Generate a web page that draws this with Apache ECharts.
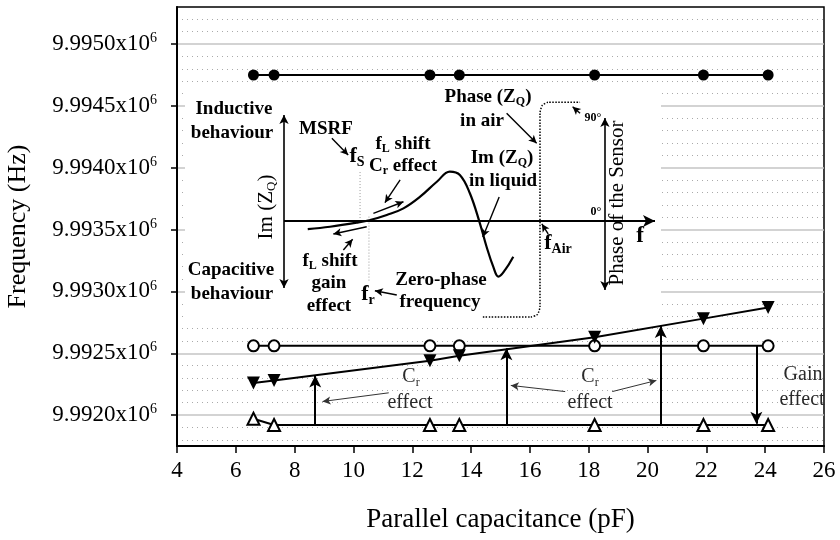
<!DOCTYPE html>
<html><head><meta charset="utf-8">
<script src="https://cdn.jsdelivr.net/npm/echarts@6/dist/echarts.min.js"></script>
<style>html,body{margin:0;padding:0;background:#fff}#c{width:840px;height:540px}</style>
</head><body><div id="c"></div>
<script>
// ---------- data ----------
const capacitance = [6.6, 7.3, 12.6, 13.6, 18.2, 21.9, 24.1];
const freqFilledCircle = [9994750, 9994750, 9994750, 9994750, 9994750, 9994750, 9994750];
const freqOpenCircle = [9992560, 9992560, 9992560, 9992560, 9992560, 9992560, 9992560];
const freqDownTriangle = [9992260, 9992280, 9992440, 9992480, 9992630, 9992780, 9992870];
const freqUpTriangle = [9991970, 9991920, 9991920, 9991920, 9991920, 9991920, 9991920];
const xTickValues = [4, 6, 8, 10, 12, 14, 16, 18, 20, 22, 24, 26];
const yTickValues = [9992000, 9992500, 9993000, 9993500, 9994000, 9994500, 9995000];

// annotation arrows on the main axes: [x, fromFreq, toFreq]
const crArrows = [[8.7, 9991920, 9992320], [15.2, 9991920, 9992540], [20.45, 9991920, 9992720]];
const gainArrows = [[23.7, 9992560, 9991930]];
const crPointers = [
  [[11.2, 9992180], [8.95, 9992110]],
  [[17.2, 9992190], [15.35, 9992240]],
  [[18.8, 9992190], [20.3, 9992280]]
];

// inset schematic (arbitrary units: frequency 0-100, response -1.2..1.2)
const imZCurve = [[6.4,-0.073],[12.4,-0.052],[19.6,-0.015],[23.2,0.009],[27.7,0.055],[32.2,0.115],[36.7,0.221],[41.2,0.357],[44.7,0.448],[47.4,0.418],[50.1,0.252],[52.8,-0.021],[54.6,-0.234],[56.4,-0.415],[57.8,-0.506],[59.6,-0.445],[61.8,-0.325]];
const phaseAirCurve = [[53.6,-0.873],[66.5,-0.873],[68.3,-0.85],[69.0,-0.78],[69.0,0.98],[69.6,1.05],[71.2,1.08],[79.8,1.08]];
const fsLine = [[20.5,0.445],[20.5,0]];
const frLine = [[22.9,0.04],[22.9,-0.555]];
const insetDoubleAxes = [[[0,0.964],[0,-0.609]], [[86.5,0.936],[86.5,-0.627]]];
const insetFreqAxis = [[[0,0],[100,0]]];
const insetPointers = [
  [[12.9,0.752],[17.3,0.6]],
  [[31.3,0.373],[27.2,0.167]],
  [[24.1,0.07],[32.2,0.175]],
  [[22.3,-0.052],[13.3,-0.118]],
  [[16.0,-0.264],[18.5,-0.166]],
  [[30.4,-0.673],[24.5,-0.634]],
  [[60.0,0.979],[68.1,0.706]],
  [[58.0,0.218],[53.6,-0.145]],
  [[71.2,-0.118],[69.5,-0.027]],
  [[79.8,0.979],[77.8,1.039]]
];

// ---------- chart ----------
const FONT = 'Liberation Serif';
const chart = echarts.init(document.getElementById('c'), null, {renderer: 'canvas'});
const zip = (xs, ys) => xs.map((x, i) => [x, ys[i]]);
const segPairs = (list) => list.map(p => [{coord: p[0]}, {coord: p[1]}]);
const vArrows = (list) => list.map(a => [{coord: [a[0], a[1]]}, {coord: [a[0], a[2]]}]);

function txt(text, x, y, opt) {
  opt = opt || {};
  const size = opt.size || 19;
  const weight = opt.weight || 'bold';
  const color = opt.color || '#000';
  return {
    type: 'text', x: x, y: y, z: 10, rotation: opt.rotation || 0,
    style: {
      text: text, fontFamily: FONT, fontSize: size, fontWeight: weight, fill: color,
      align: 'center', verticalAlign: 'middle',
      rich: {
        n: {fontFamily: FONT, fontSize: size, fontWeight: weight, fill: color},
        s: {fontFamily: FONT, fontSize: Math.round(size * 0.62), fontWeight: weight, fill: color, padding: [Math.round(size*0.55), 0, 0, 0]}
      }
    }
  };
}

const markLineBase = {silent: true, animation: false, label: {show: false}, emphasis: {disabled: true}};
const NOTE = {size: 20, weight: 'normal', color: '#2a2a2a'};

const option = {
  animation: false,
  backgroundColor: '#fff',
  grid: [
    {left: 177, top: 7, width: 647, height: 439, show: true, borderColor: '#000', borderWidth: 1.5, backgroundColor: 'transparent', containLabel: false, outerBoundsMode: 'none'},
    {left: 284, top: 89, width: 371, height: 264, containLabel: false, outerBoundsMode: 'none'}
  ],
  xAxis: [
    {
      type: 'value', gridIndex: 0, min: 4, max: 26, interval: 2,
      name: 'Parallel capacitance (pF)', nameLocation: 'middle', nameGap: 60,
      nameTextStyle: {fontFamily: FONT, fontSize: 27, color: '#000'},
      axisLine: {show: true, lineStyle: {color: '#000', width: 2}},
      axisTick: {show: true, length: 7, lineStyle: {color: '#000', width: 1.5}, customValues: xTickValues},
      axisLabel: {fontFamily: FONT, fontSize: 23, color: '#000', margin: 13, customValues: xTickValues},
      splitLine: {show: false}
    },
    {type: 'value', gridIndex: 1, min: 0, max: 100, show: false}
  ],
  yAxis: [
    {
      type: 'value', gridIndex: 0, min: 9991750, max: 9995300, splitNumber: 7,
      name: 'Frequency (Hz)', nameLocation: 'middle', nameGap: 146, nameRotate: 90,
      nameTextStyle: {fontFamily: FONT, fontSize: 26, color: '#000'},
      axisLine: {show: true, lineStyle: {color: '#000', width: 2}},
      axisTick: {show: true, length: 6, lineStyle: {color: '#000', width: 1.5}, customValues: yTickValues},
      axisLabel: {
        margin: 20, customValues: yTickValues,
        formatter: v => '{a|' + (v / 1e6).toFixed(4) + 'x10}{s|6}',
        rich: {
          a: {fontFamily: FONT, fontSize: 23, color: '#000'},
          s: {fontFamily: FONT, fontSize: 14, color: '#000', padding: [0, 0, 11, 0]}
        }
      },
      splitLine: {show: true, lineStyle: {color: '#c4c4c4', width: 1.6}},
      minorTick: {show: false, splitNumber: 5},
      minorSplitLine: {show: true, lineStyle: {color: '#aaa', width: 1, type: [1, 4]}}
    },
    {type: 'value', gridIndex: 1, min: -1.2, max: 1.2, show: false}
  ],
  graphic: [
    {type: 'rect', z: 1, shape: {x: 185, y: 86, width: 476, height: 234}, style: {fill: '#fff'}, silent: true},
    txt('Inductive', 234, 109), txt('behaviour', 232, 133),
    txt('Capacitive', 231, 270), txt('behaviour', 232, 294),
    txt('Im ({n|Z}{s|Q})', 266, 207, {size: 21, weight: 'normal', rotation: Math.PI / 2}),
    txt('MSRF', 326, 129),
    txt('{n|f}{s|S}', 357, 156, {size: 22}),
    txt('{n|f}{s|L}{n| shift}', 403, 144),
    txt('{n|C}{s|r}{n| effect}', 403, 166),
    txt('{n|f}{s|L}{n| shift}', 330, 261),
    txt('gain', 329, 283), txt('effect', 329, 306),
    txt('{n|f}{s|r}', 368, 294, {size: 22}),
    txt('Zero-phase', 441, 280), txt('frequency', 440, 302),
    txt('{n|Phase (Z}{s|Q}{n|)}', 488, 97), txt('in air', 482, 121),
    txt('{n|Im (Z}{s|Q}{n|)}', 502, 158), txt('in liquid', 503, 181),
    txt('{n|f}{s|Air}', 558, 243, {size: 22}),
    txt('90°', 593, 118, {size: 12}),
    txt('0°', 596, 212, {size: 12}),
    txt('f', 640, 236, {size: 23}),
    txt('Phase of the Sensor', 617, 203, {size: 21, weight: 'normal', rotation: Math.PI / 2}),
    txt('{n|C}{s|r}', 411, 377, NOTE),
    txt('effect', 410, 403, NOTE),
    txt('{n|C}{s|r}', 590, 377, NOTE),
    txt('effect', 590, 403, NOTE),
    txt('Gain', 803, 375, NOTE),
    txt('effect', 802, 400, NOTE)
  ],
  series: [
    {
      type: 'line', xAxisIndex: 0, yAxisIndex: 0, data: zip(capacitance, freqFilledCircle),
      symbol: 'circle', symbolSize: 11, showSymbol: true,
      lineStyle: {color: '#000', width: 2}, itemStyle: {color: '#000'}, z: 3
    },
    {
      type: 'line', xAxisIndex: 0, yAxisIndex: 0, data: zip(capacitance, freqOpenCircle),
      symbol: 'emptyCircle', symbolSize: 11,
      lineStyle: {color: '#000', width: 2}, itemStyle: {color: '#000', borderWidth: 1.5, borderColor: '#000'}, z: 3
    },
    {
      type: 'line', xAxisIndex: 0, yAxisIndex: 0, data: zip(capacitance, freqDownTriangle),
      symbol: 'triangle', symbolRotate: 180, symbolSize: 13,
      lineStyle: {color: '#000', width: 2}, itemStyle: {color: '#000'}, z: 3
    },
    {
      type: 'line', xAxisIndex: 0, yAxisIndex: 0, data: zip(capacitance, freqUpTriangle),
      symbol: 'emptyTriangle', symbolSize: 12,
      lineStyle: {color: '#000', width: 2}, itemStyle: {color: '#000', borderWidth: 1.5, borderColor: '#000'}, z: 3,
      markLine: Object.assign({}, markLineBase, {
        symbol: ['none', 'arrow'], symbolSize: [9, 12],
        lineStyle: {color: '#000', width: 2, type: 'solid'},
        data: vArrows(crArrows.concat(gainArrows))
      })
    },
    {
      type: 'line', xAxisIndex: 0, yAxisIndex: 0, data: [],
      markLine: Object.assign({}, markLineBase, {
        symbol: ['none', 'arrow'], symbolSize: [6, 8],
        lineStyle: {color: '#333', width: 1, type: 'solid'},
        data: segPairs(crPointers)
      })
    },
    // ---- inset schematic ----
    {
      type: 'line', xAxisIndex: 1, yAxisIndex: 1, data: imZCurve, smooth: 0.4, showSymbol: false,
      lineStyle: {color: '#000', width: 2.2}, z: 4
    },
    {
      type: 'line', xAxisIndex: 1, yAxisIndex: 1, data: phaseAirCurve, smooth: 0.2, showSymbol: false,
      lineStyle: {color: '#000', width: 1.5, type: [1.5, 1.5]}, z: 4
    },
    {
      type: 'line', xAxisIndex: 1, yAxisIndex: 1, data: fsLine, showSymbol: false,
      lineStyle: {color: '#999', width: 1, type: [1, 2]}, z: 4
    },
    {
      type: 'line', xAxisIndex: 1, yAxisIndex: 1, data: frLine, showSymbol: false,
      lineStyle: {color: '#999', width: 1, type: [1, 2]}, z: 4
    },
    {
      type: 'line', xAxisIndex: 1, yAxisIndex: 1, data: [],
      markLine: Object.assign({}, markLineBase, {
        symbol: ['arrow', 'arrow'], symbolSize: [7, 9],
        lineStyle: {color: '#000', width: 1.6, type: 'solid'},
        data: segPairs(insetDoubleAxes)
      })
    },
    {
      type: 'line', xAxisIndex: 1, yAxisIndex: 1, data: [],
      markLine: Object.assign({}, markLineBase, {
        symbol: ['none', 'arrow'], symbolSize: [9, 12],
        lineStyle: {color: '#000', width: 2, type: 'solid'},
        data: segPairs(insetFreqAxis)
      })
    },
    {
      type: 'line', xAxisIndex: 1, yAxisIndex: 1, data: [],
      markLine: Object.assign({}, markLineBase, {
        symbol: ['none', 'arrow'], symbolSize: [6, 8],
        lineStyle: {color: '#000', width: 1.4, type: 'solid'},
        data: segPairs(insetPointers)
      })
    }
  ]
};
chart.setOption(option);
</script></body></html>
